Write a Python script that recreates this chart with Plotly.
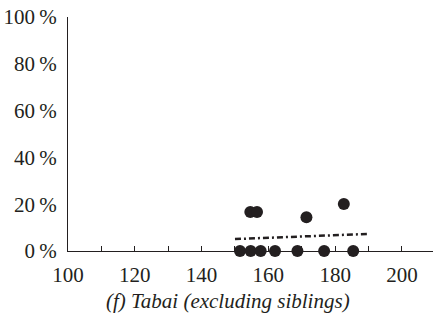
import plotly.graph_objects as go

# Observed points (height in cm, percentage)
pts_x = [151.5, 154.7, 157.7, 162.0, 168.7, 176.7, 185.4, 154.6, 156.6, 171.4, 182.6]
pts_y = [0, 0, 0, 0, 0, 0, 0, 16.7, 16.7, 14.4, 20.1]

# Fitted curve
fit_x = [150, 160, 170, 180, 190]
fit_y = [5.1, 5.6, 6.1, 6.7, 7.3]

x_tickvals = [100, 110, 120, 130, 140, 150, 160, 170, 180, 190, 200]
x_ticktext = ["100", "", "120", "", "140", "", "160", "", "180", "", "200"]
y_tickvals = [0, 20, 40, 60, 80, 100]
y_ticktext = ["0\u2009%", "20\u2009%", "40\u2009%", "60\u2009%", "80\u2009%", "100\u2009%"]

title = "(f) Tabai (excluding siblings)"

ink = "#231f20"
font = "Liberation Serif"

fig = go.Figure()
fig.add_trace(go.Scatter(x=fit_x, y=fit_y, mode="lines",
                         line=dict(color=ink, width=2.5, dash="6px,3px,2px,3px"),
                         hoverinfo="skip", cliponaxis=False))
fig.add_trace(go.Scatter(x=pts_x, y=pts_y, mode="markers",
                         marker=dict(color=ink, size=12, line=dict(width=0)),
                         cliponaxis=False))

plot_h = 329 - 17 - 78
fig.update_layout(
    width=433, height=329,
    margin=dict(l=68, r=0, t=17, b=78),
    paper_bgcolor="white", plot_bgcolor="white",
    showlegend=False,
    font=dict(family=font, size=21, color=ink),
    xaxis=dict(range=[100, 209.3], tickvals=x_tickvals, ticktext=x_ticktext,
               showgrid=False, zeroline=False, showline=True, linecolor=ink, linewidth=1,
               ticks="inside", ticklen=5, tickcolor=ink, tickwidth=1,
               ticklabelstandoff=5),
    yaxis=dict(range=[0, 100], tickvals=y_tickvals, ticktext=y_ticktext,
               showgrid=False, zeroline=False, showline=True, linecolor=ink, linewidth=1,
               ticks="", ticklabelstandoff=6),
    annotations=[dict(text="<i>" + title + "</i>",
                      x=(228 - 68) / (433 - 68), y=(329 - 78 - 301) / plot_h,
                      xref="paper", yref="paper",
                      showarrow=False, font=dict(family=font, size=21, color=ink),
                      xanchor="center", yanchor="middle")],
)

fig.write_html("out.html")
